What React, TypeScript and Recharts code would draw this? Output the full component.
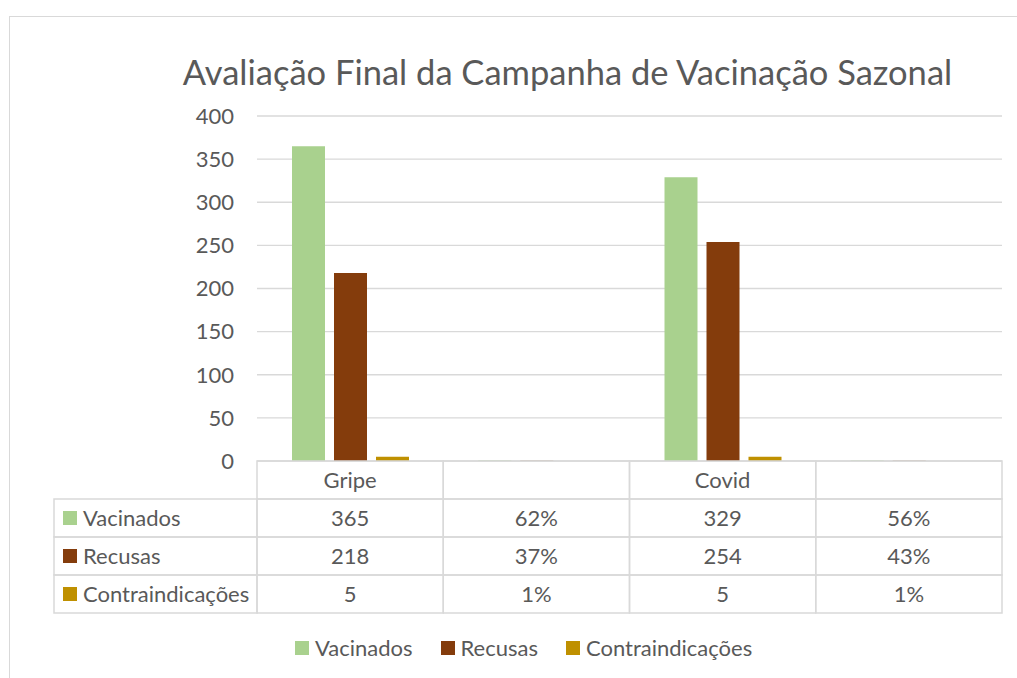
import React from 'react';
import { BarChart, Bar, XAxis, YAxis, CartesianGrid, Legend } from 'recharts';

const W = 1017;
const H = 678;
const FONT = 'Lato, "Open Sans", sans-serif';
const TEXT = '#595959';
const GRID = '#D9D9D9';

const PLOT_L = 257;
const PLOT_R = 1002;
const PLOT_T = 116;
const PLOT_B = 461;
const Y_AXIS_W = 60;
const X_AXIS_H = 160;
const ROW_H = 38;

const title = 'Avaliação Final da Campanha de Vacinação Sazonal';
const categories = ['Gripe', '', 'Covid', ''];
const seriesNames = ['Vacinados', 'Recusas', 'Contraindicações'];
const seriesColors = ['#A9D18E', '#843C0C', '#BF9000'];
const vacinados = [365, 0.62, 329, 0.56];
const recusas = [218, 0.37, 254, 0.43];
const contraindicacoes = [5, 0.01, 5, 0.01];
const yTicks = [0, 50, 100, 150, 200, 250, 300, 350, 400];

const seriesValues = [vacinados, recusas, contraindicacoes];

const data = categories.map((c, i) => ({
  idx: i,
  Vacinados: vacinados[i],
  Recusas: recusas[i],
  Contraindicações: contraindicacoes[i],
}));

const fmt = (v: number) => (v < 1 ? `${Math.round(v * 100)}%` : String(v));

const colW = (PLOT_R - PLOT_L) / categories.length;
const FS = 22;

const TableTick = (props: any) => {
  const { x, y, payload } = props;
  const i = payload.value as number;
  const left = x - colW / 2;
  const cells: React.ReactNode[] = [];
  cells.push(
    <rect key="h" x={left} y={y} width={colW} height={ROW_H} fill="none" stroke={GRID} strokeWidth={1.5} />
  );
  cells.push(
    <text key="ht" x={x} y={y + ROW_H / 2 + 8} textAnchor="middle" fontSize={FS} fill={TEXT} fontFamily={FONT}>
      {categories[i]}
    </text>
  );
  seriesNames.forEach((s, r) => {
    const ry = y + ROW_H * (r + 1);
    cells.push(
      <rect key={'r' + r} x={left} y={ry} width={colW} height={ROW_H} fill="none" stroke={GRID} strokeWidth={1.5} />
    );
    cells.push(
      <text key={'t' + r} x={x} y={ry + ROW_H / 2 + 8} textAnchor="middle" fontSize={FS} fill={TEXT} fontFamily={FONT}>
        {fmt(seriesValues[r][i])}
      </text>
    );
    if (i === 0) {
      const lx = 54;
      const lw = left - lx;
      cells.push(
        <rect key={'l' + r} x={lx} y={ry} width={lw} height={ROW_H} fill="none" stroke={GRID} strokeWidth={1.5} />
      );
      cells.push(
        <rect key={'m' + r} x={lx + 9} y={ry + ROW_H / 2 - 7} width={14} height={14} fill={seriesColors[r]} />
      );
      cells.push(
        <text key={'lt' + r} x={lx + 29} y={ry + ROW_H / 2 + 8} fontSize={FS} fill={TEXT} fontFamily={FONT}>
          {s}
        </text>
      );
    }
  });
  return <g>{cells}</g>;
};

const LegendContent = () => (
  <div style={{ display: 'flex', alignItems: 'center', paddingLeft: 295, fontFamily: FONT, fontSize: FS, color: TEXT }}>
    {seriesNames.map((s, i) => (
      <div key={s} style={{ display: 'flex', alignItems: 'center', marginRight: 28 }}>
        <span style={{ width: 14, height: 14, background: seriesColors[i], display: 'inline-block', marginRight: 6 }} />
        <span>{s}</span>
      </div>
    ))}
  </div>
);

export default function App() {
  return (
    <div style={{ position: 'absolute', left: 0, top: 0, width: W, height: H, overflow: 'hidden', background: '#fff' }}>
      <div style={{ position: 'absolute', left: 9, top: 16, width: 1200, height: 1000, border: `1.5px solid ${GRID}`, boxSizing: 'border-box' }} />
      <div style={{ position: 'absolute', left: 0, top: 51, width: 1135, textAlign: 'center', fontFamily: FONT, fontSize: 34.5, color: TEXT, whiteSpace: 'nowrap' }}>
        {title}
      </div>
      <div style={{ position: 'absolute', left: 0, top: 0 }}>
        <BarChart
          width={W}
          height={H}
          data={data}
          margin={{ top: PLOT_T, right: W - PLOT_R, bottom: H - PLOT_B - X_AXIS_H, left: PLOT_L - Y_AXIS_W }}
          barSize={33}
          barGap={9}
        >
          <CartesianGrid vertical={false} stroke={GRID} strokeWidth={1.3} />
          <XAxis
            dataKey="idx"
            type="category"
            height={X_AXIS_H}
            axisLine={false}
            tickLine={false}
            tickSize={0}
            tickMargin={0}
            interval={0}
            tick={<TableTick />}
          />
          <YAxis
            width={Y_AXIS_W}
            domain={[0, 400]}
            ticks={yTicks}
            axisLine={false}
            tickLine={false}
            tickSize={0}
            tickMargin={23}
            tick={{ fontSize: FS, fill: TEXT, fontFamily: FONT }}
          />
          {seriesNames.map((s, i) => (
            <Bar key={s} dataKey={s} fill={seriesColors[i]} isAnimationActive={false} />
          ))}
          <Legend
            layout="horizontal"
            verticalAlign="middle"
            align="center"
            wrapperStyle={{ position: 'absolute', top: 634, left: 0, width: W }}
            content={<LegendContent />}
          />
        </BarChart>
      </div>
    </div>
  );
}
